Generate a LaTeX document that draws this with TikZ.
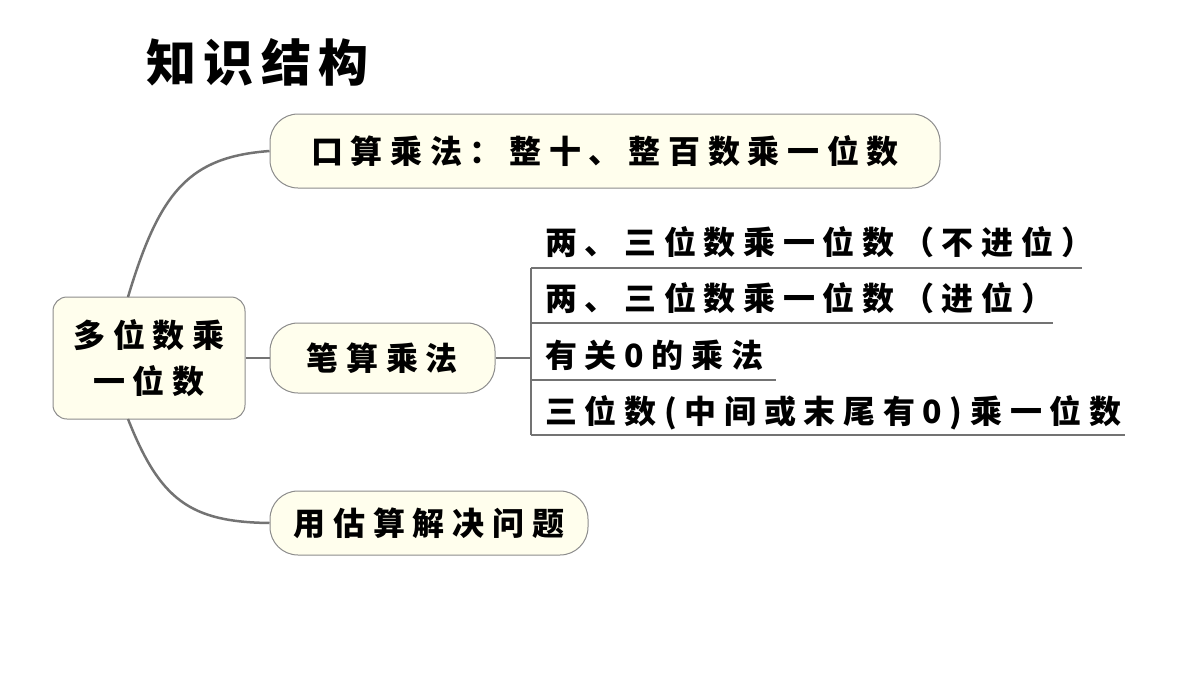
\documentclass[tikz,border=0pt]{standalone}
\usepackage{fontspec}
\setmainfont{Noto Sans CJK SC}[LetterSpace=24]
\newfontfamily\titlefont{Noto Sans CJK SC}[LetterSpace=15]
\begin{document}
\begin{tikzpicture}[x=1pt,y=-1pt,
  box/.style={draw=black!45,line width=1pt,fill=yellow!7,rounded corners=28pt,inner sep=0pt},
  conn/.style={draw=black!55,line width=2.5pt},
  txt/.style={font=\fontsize{32}{38}\selectfont\bfseries,anchor=base west,inner sep=0pt}]
\useasboundingbox (0,0) rectangle (1200,675);
\node[font=\titlefont\fontsize{50}{56}\selectfont\bfseries,anchor=west,inner sep=0pt] (title) at (146,62) {知识结构};
\node[box,minimum width=192pt,minimum height=122pt,rounded corners=14pt,align=center,font=\fontsize{32}{46}\selectfont\bfseries] (root) at (149,358) {多位数乘\\一位数};
\node[box,minimum width=670pt,minimum height=74pt,font=\fontsize{32}{38}\selectfont\bfseries] (b1) at (605,151) {口算乘法：整十、整百数乘一位数};
\node[box,minimum width=225pt,minimum height=70pt,font=\fontsize{32}{38}\selectfont\bfseries] (b2) at (382.5,358) {笔算乘法};
\node[box,minimum width=318pt,minimum height=64pt,font=\fontsize{32}{38}\selectfont\bfseries] (b3) at (429,523) {用估算解决问题};
\draw[conn] (128,297) .. controls (160,190) and (190,157) .. (b1.west);
\draw[conn] (root.east) -- (b2.west);
\draw[conn] (128,419) .. controls (160,500) and (190,522) .. (b3.west);
\coordinate (j) at (531,358);
\draw[conn] (b2.east) -- (j);
\draw[conn] (531,268) -- (531,435);
\draw[conn] (531,268) -- (1082,268);
\draw[conn] (531,323) -- (1053,323);
\draw[conn] (531,380) -- (776,380);
\draw[conn] (531,435) -- (1125,435);
\node[txt] (t1) at (545,254) {两、三位数乘一位数（不进位）};
\node[txt] (t2) at (545,310) {两、三位数乘一位数（进位）};
\node[txt] (t3) at (545,367) {有关0的乘法};
\node[txt] (t4) at (545,423) {三位数(中间或末尾有0)乘一位数};
\end{tikzpicture}
\end{document}
